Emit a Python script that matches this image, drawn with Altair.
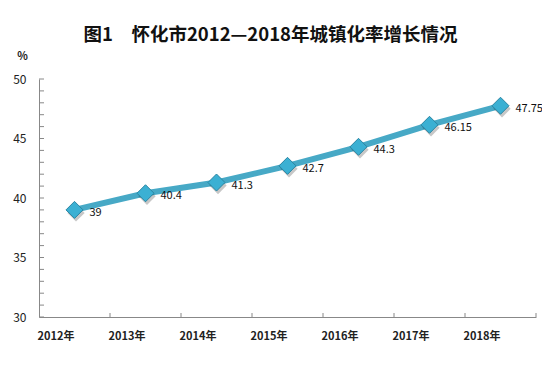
import altair as alt
import pandas as pd

years = ["2012年", "2013年", "2014年", "2015年", "2016年", "2017年", "2018年"]
rates = [39, 40.4, 41.3, 42.7, 44.3, 46.15, 47.75]
labels = ["39", "40.4", "41.3", "42.7", "44.3", "46.15", "47.75"]
y_ticks = list(range(30, 51))

df = pd.DataFrame({"year": years, "rate": rates, "label": labels})
ticks_df = pd.DataFrame({"v": y_ticks})

W, H = 497, 238
FONT = "Noto Sans CJK SC"

x_enc = alt.X("year:N", sort=years, title=None,
              scale=alt.Scale(paddingInner=0, paddingOuter=0),
              axis=alt.Axis(ticks=False, labelAngle=0, labelFont=FONT, labelFontSize=11,
                            labelFontWeight="bold", labelColor="#222222", labelPadding=19,
                            domainColor="#888888", domainWidth=1))
y_scale = alt.Scale(domain=[30, 50], nice=False)
y_enc = alt.Y("rate:Q", scale=y_scale,
              axis=alt.Axis(values=[30, 35, 40, 45, 50], ticks=False, grid=False,
                            labelFont=FONT, labelFontSize=12, labelColor="#222222",
                            labelPadding=13, domainColor="#888888",
                            title="%", titleAngle=0, titleFont=FONT, titleFontSize=11,
                            titleFontWeight="bold", titleX=-17, titleY=-18, titleColor="#222222"))

base = alt.Chart(df)

line = base.mark_line(color="#47A9C6", strokeWidth=6).encode(x=x_enc, y=y_enc)

shadow = base.mark_point(shape="diamond", size=300, filled=True, color="#000000",
                         opacity=0.22, xOffset=1.5, yOffset=3).encode(
    x=alt.X("year:N", sort=years), y=alt.Y("rate:Q", scale=y_scale))

pts = base.mark_point(shape="diamond", size=290, filled=True, fill="#3BB0D3",
                      stroke="#2A85A2", strokeWidth=1, opacity=1).encode(
    x=alt.X("year:N", sort=years), y=alt.Y("rate:Q", scale=y_scale))

txt = base.mark_text(align="left", baseline="middle", dx=15, dy=3, font=FONT,
                     fontSize=11, color="#111111").encode(
    x=alt.X("year:N", sort=years), y=alt.Y("rate:Q", scale=y_scale), text="label:N")

ytick = alt.Chart(ticks_df).mark_rule(color="#888888", strokeWidth=1).encode(
    y=alt.Y("v:Q", scale=y_scale), x=alt.value(0), x2=alt.value(5))

xtick = base.mark_rule(color="#888888", strokeWidth=1).encode(
    x=alt.X("year:N", sort=years, bandPosition=1), y=alt.value(H), y2=alt.value(H - 4))

chart = alt.layer(ytick, xtick, line, shadow, pts, txt).properties(
    width=W, height=H,
    title=alt.TitleParams("图1　怀化市2012—2018年城镇化率增长情况", font=FONT, fontSize=18.5,
                          fontWeight="bold", color="#111111", anchor="middle", offset=6, dx=-17),
    autosize=alt.AutoSizeParams(type="none"),
    padding={"left": 31, "top": 71, "right": 6, "bottom": 30},
).configure_view(stroke=None)

chart.save("out.html", embed_options={"renderer": "svg", "actions": False})
